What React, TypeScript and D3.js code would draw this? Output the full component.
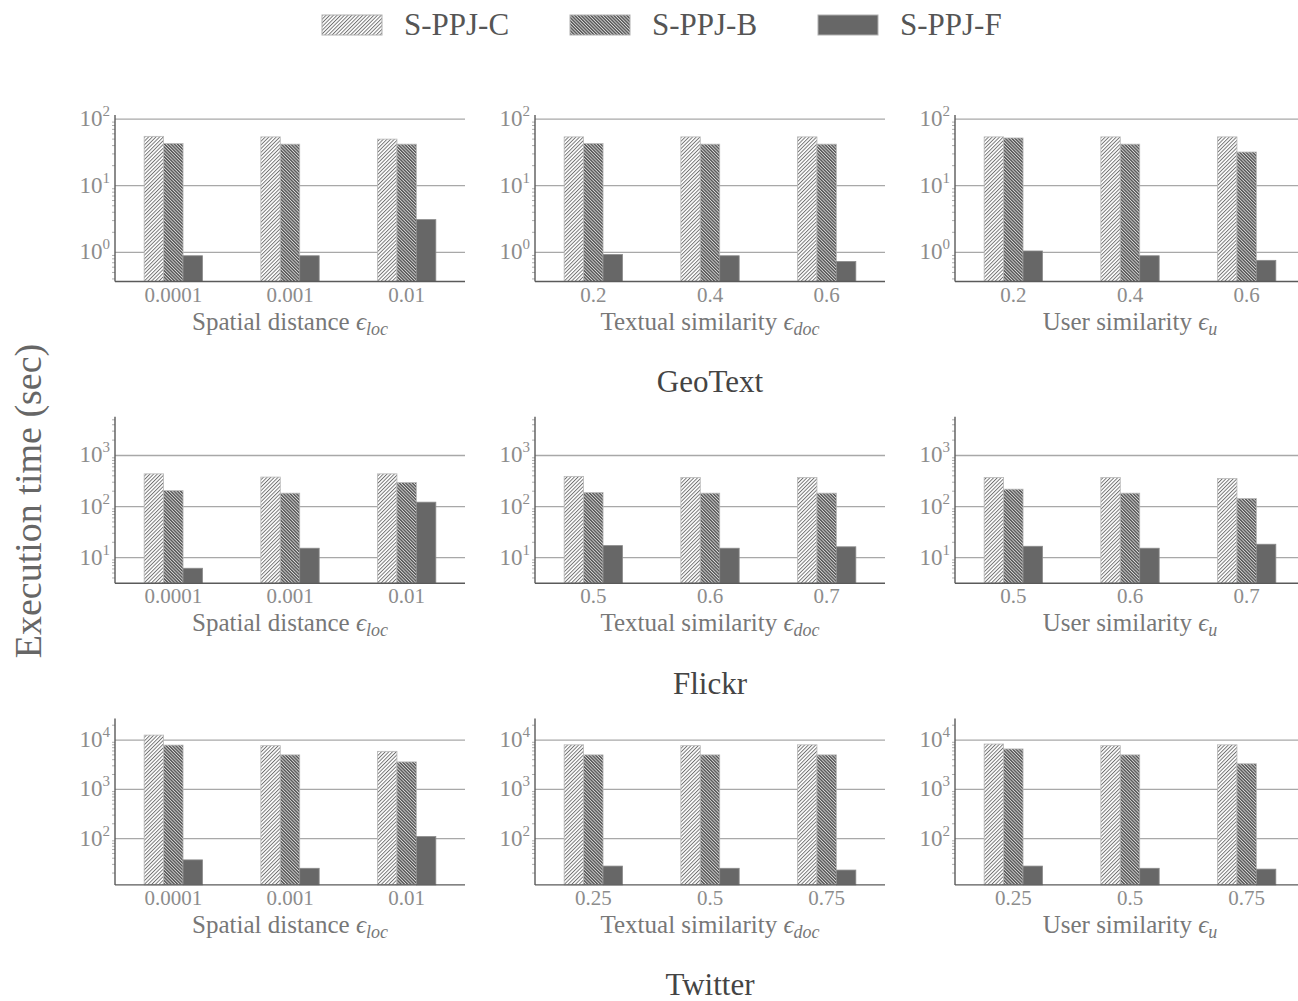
import * as d3 from "d3";

// series + datasets
const series = ["S-PPJ-C", "S-PPJ-B", "S-PPJ-F"];
const datasets = ["GeoText", "Flickr", "Twitter"];

// x categories
const spatialEps = ["0.0001", "0.001", "0.01"];
const geoSimEps = ["0.2", "0.4", "0.6"];
const flickrSimEps = ["0.5", "0.6", "0.7"];
const twitterSimEps = ["0.25", "0.5", "0.75"];

// GeoText
const geoSpatialC = [55, 54, 50];
const geoSpatialB = [43, 42, 42];
const geoSpatialF = [0.89, 0.89, 3.1];
const geoTextualC = [54, 54, 54];
const geoTextualB = [43, 42, 42];
const geoTextualF = [0.93, 0.89, 0.73];
const geoUserC = [54, 54, 54];
const geoUserB = [52, 42, 32];
const geoUserF = [1.05, 0.89, 0.76];

// Flickr
const flickrSpatialC = [437, 378, 437];
const flickrSpatialB = [205, 183, 295];
const flickrSpatialF = [6.2, 15.3, 122];
const flickrTextualC = [390, 371, 371];
const flickrTextualB = [188, 183, 183];
const flickrTextualF = [17.2, 15.3, 16.3];
const flickrUserC = [371, 371, 354];
const flickrUserB = [219, 183, 144];
const flickrUserF = [16.7, 15.3, 18.3];

// Twitter
const twitterSpatialC = [12600, 7700, 5900];
const twitterSpatialB = [7900, 5000, 3600];
const twitterSpatialF = [37, 25, 110];
const twitterTextualC = [8000, 7700, 8000];
const twitterTextualB = [5000, 5000, 5000];
const twitterTextualF = [27.7, 25, 23];
const twitterUserC = [8300, 7700, 8000];
const twitterUserB = [6600, 5000, 3300];
const twitterUserF = [27.7, 25, 24];

// y axis per row
const rowDomains = [
  [0.366, 115],
  [3.16, 5750],
  [11.5, 27500],
];
const rowTicks = [
  [1, 10, 100],
  [10, 100, 1000],
  [100, 1000, 10000],
];

const xLabels = [
  { main: "Spatial distance ", sub: "loc" },
  { main: "Textual similarity ", sub: "doc" },
  { main: "User similarity ", sub: "u" },
];

const rows = [
  {
    cats: [spatialEps, geoSimEps, geoSimEps],
    vals: [
      [geoSpatialC, geoSpatialB, geoSpatialF],
      [geoTextualC, geoTextualB, geoTextualF],
      [geoUserC, geoUserB, geoUserF],
    ],
  },
  {
    cats: [spatialEps, flickrSimEps, flickrSimEps],
    vals: [
      [flickrSpatialC, flickrSpatialB, flickrSpatialF],
      [flickrTextualC, flickrTextualB, flickrTextualF],
      [flickrUserC, flickrUserB, flickrUserF],
    ],
  },
  {
    cats: [spatialEps, twitterSimEps, twitterSimEps],
    vals: [
      [twitterSpatialC, twitterSpatialB, twitterSpatialF],
      [twitterTextualC, twitterTextualB, twitterTextualF],
      [twitterUserC, twitterUserB, twitterUserF],
    ],
  },
];

const WIDTH = 1298;
const HEIGHT = 1001;
const PLOT_W = 350;
const PLOT_H = 166.5;
const LEFT0 = 115;
const COL_STEP = 420;
const TOP0 = 115;
const ROW_STEP = 301.7;
const FONT = "'Liberation Serif', 'Times New Roman', serif";

const fills = ["url(#hatchC)", "url(#hatchB)", "#676767"];

const Panel = ({ cats, vals, row, col }) => {
  const x0 = d3.scaleBand().domain(cats).range([0, PLOT_W]).paddingInner(0.5).paddingOuter(0.25);
  const x1 = d3.scaleBand().domain(series).range([0, x0.bandwidth()]);
  const y = d3.scaleLog().domain(rowDomains[row]).range([PLOT_H, 0]);
  const ticks = rowTicks[row];
  const [lo, hi] = rowDomains[row];
  const minor = y.ticks().filter((t) => t >= lo && t <= hi && !ticks.includes(t));
  const lbl = xLabels[col];

  return (
    <g transform={`translate(${LEFT0 + col * COL_STEP},${TOP0 + row * ROW_STEP})`}>
      {ticks.map((t) => (
        <line key={t} x1={0} x2={PLOT_W} y1={y(t)} y2={y(t)} stroke="#a8a8a8" strokeWidth={1.3} />
      ))}
      {cats.map((c, i) => (
        <g key={c} transform={`translate(${x0(c)},0)`}>
          {series.map((s, k) => (
            <rect
              key={s}
              x={x1(s)}
              y={y(vals[k][i])}
              width={x1.bandwidth()}
              height={PLOT_H - y(vals[k][i])}
              fill={fills[k]}
              stroke={k === 2 ? "#8a8a8a" : "#b8b8b8"}
              strokeWidth={0.8}
            />
          ))}
        </g>
      ))}
      {minor.map((t) => (
        <line key={t} x1={-3} x2={0} y1={y(t)} y2={y(t)} stroke="#999" strokeWidth={0.8} />
      ))}
      <line x1={0} x2={0} y1={0} y2={PLOT_H} stroke="#5a5a5a" strokeWidth={1.4} />
      <line x1={0} x2={PLOT_W} y1={PLOT_H} y2={PLOT_H} stroke="#5a5a5a" strokeWidth={1.4} />
      {ticks.map((t) => (
        <text key={t} x={-5} y={y(t) + 7} textAnchor="end" fontSize={23} fill="#8c8c8c" fontFamily={FONT}>
          10
          <tspan fontSize={15} dy={-10}>
            {Math.round(Math.log10(t))}
          </tspan>
        </text>
      ))}
      {cats.map((c) => (
        <text
          key={c}
          x={x0(c) + x0.bandwidth() / 2}
          y={PLOT_H + 20}
          textAnchor="middle"
          fontSize={21}
          fill="#8c8c8c"
          fontFamily={FONT}
        >
          {c}
        </text>
      ))}
      <text x={PLOT_W / 2} y={PLOT_H + 48} textAnchor="middle" fontSize={25} fill="#777" fontFamily={FONT}>
        {lbl.main}
        <tspan fontStyle="italic">ϵ</tspan>
        <tspan fontStyle="italic" fontSize={18} dy={5}>
          {lbl.sub}
        </tspan>
      </text>
    </g>
  );
};

export default function App() {
  return (
    <svg
      width={WIDTH}
      height={HEIGHT}
      style={{ position: "absolute", left: 0, top: 0, background: "#fff" }}
    >
      <defs>
        <pattern id="hatchC" patternUnits="userSpaceOnUse" width={2.6} height={2.6} patternTransform="rotate(45)">
          <rect width={2.6} height={2.6} fill="#fff" />
          <line x1={0.5} y1={0} x2={0.5} y2={2.6} stroke="#6a6a6a" strokeWidth={0.9} />
        </pattern>
        <pattern id="hatchB" patternUnits="userSpaceOnUse" width={2.3} height={2.3} patternTransform="rotate(-45)">
          <rect width={2.3} height={2.3} fill="#d8d8d8" />
          <line x1={0.7} y1={0} x2={0.7} y2={2.3} stroke="#555" strokeWidth={1.4} />
        </pattern>
      </defs>

      {/* legend */}
      {series.map((s, k) => (
        <g key={s} transform={`translate(${322 + k * 248},15)`}>
          <rect width={60} height={20} fill={fills[k]} stroke="#b0b0b0" strokeWidth={1} />
          <text x={82} y={20} fontSize={31} fill="#555" fontFamily={FONT}>
            {s}
          </text>
        </g>
      ))}

      <text
        transform="translate(41,501) rotate(-90)"
        textAnchor="middle"
        fontSize={38}
        fill="#666"
        fontFamily={FONT}
      >
        Execution time (sec)
      </text>

      {rows.map((r, ri) => (
        <g key={ri}>
          {r.cats.map((cats, ci) => (
            <Panel key={ci} cats={cats} vals={r.vals[ci]} row={ri} col={ci} />
          ))}
          <text
            x={LEFT0 + COL_STEP + PLOT_W / 2}
            y={TOP0 + ri * ROW_STEP + 277}
            textAnchor="middle"
            fontSize={31}
            fill="#444"
            fontFamily={FONT}
          >
            {datasets[ri]}
          </text>
        </g>
      ))}
    </svg>
  );
}
